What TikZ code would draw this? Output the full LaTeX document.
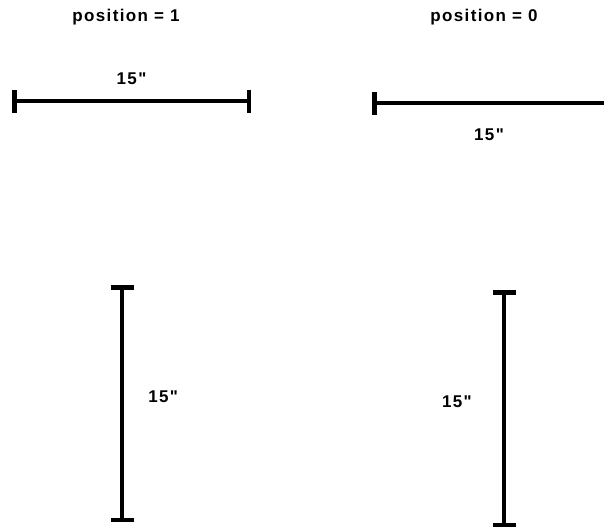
\documentclass[tikz,border=0pt]{standalone}
\usepackage{fontspec}
\newfontfamily\lblfont[LetterSpace=8]{Liberation Sans}
\usetikzlibrary{arrows.meta,positioning}

\begin{document}
\begin{tikzpicture}[x=1pt, y=-1pt,
  lbl/.style={font=\lblfont\bfseries\fontsize{17}{19}\selectfont, inner sep=3pt},
  dim/.style={line width=4.5pt, {Bar[width=23pt]}-{Bar[width=23pt]}},
  dimopen/.style={line width=4.5pt, {Bar[width=23pt]}-}
]
\useasboundingbox (0,0) rectangle (604,527);
\node[lbl] (pos1) at (126,17) {position = 1};
\node[lbl] (pos0) at (484,17) {position = 0};
% horizontal bars
\coordinate (hal) at (12,101); \coordinate (har) at (251,101);
\coordinate (hbl) at (372,103); \coordinate (hbr) at (606,103);
\draw[dim] (hal) -- node[lbl, above=11pt] (laba) {15"} (har);
\draw[dimopen] (hbl) -- node[lbl, below=21pt] (labb) {15"} (hbr);
% vertical bars
\coordinate (vat) at (122,285); \coordinate (vab) at (122,522);
\coordinate (vbt) at (504,290); \coordinate (vbb) at (504,527);
\draw[dim] (vat) -- node[lbl, right=21pt, pos=0.47] (labc) {15"} (vab);
\draw[dim] (vbt) -- node[lbl, left=27pt, pos=0.47] (labd) {15"} (vbb);
\end{tikzpicture}
\end{document}
